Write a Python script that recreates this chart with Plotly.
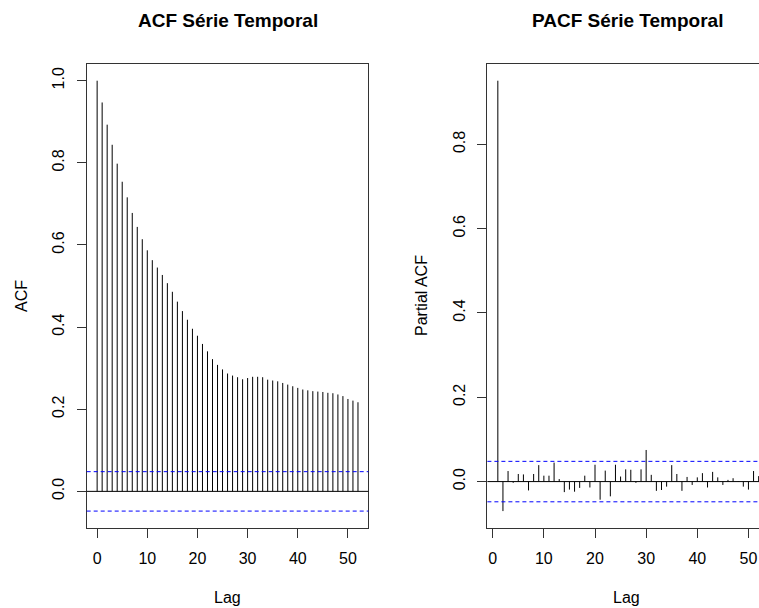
import plotly.graph_objects as go

# ---------------- data ----------------
acf_lags = list(range(0, 53))
acf_vals = [1.0, 0.947, 0.893, 0.844, 0.798, 0.754, 0.716, 0.678, 0.644, 0.614,
            0.587, 0.563, 0.545, 0.527, 0.507, 0.486, 0.462, 0.439, 0.418, 0.396,
            0.379, 0.359, 0.341, 0.322, 0.308, 0.297, 0.287, 0.282, 0.278, 0.273,
            0.276, 0.279, 0.279, 0.278, 0.272, 0.270, 0.268, 0.264, 0.260, 0.256,
            0.252, 0.248, 0.246, 0.244, 0.243, 0.242, 0.240, 0.239, 0.236, 0.232,
            0.225, 0.221, 0.217]

pacf_lags = list(range(1, 53))
pacf_vals = [0.951, -0.070, 0.025, -0.003, 0.018, 0.017, -0.021, 0.018, 0.039, 0.014,
             0.014, 0.045, 0.006, -0.025, -0.019, -0.024, -0.015, 0.014, -0.014, 0.040,
             -0.043, 0.026, -0.035, 0.040, 0.012, 0.029, 0.028, -0.003, 0.029, 0.075,
             0.016, -0.022, -0.020, -0.012, 0.039, 0.018, -0.022, 0.011, -0.008, 0.010,
             0.020, -0.014, 0.023, 0.010, -0.008, 0.004, 0.008, 0.001, -0.012, -0.019,
             0.025, 0.013]

ci = 0.048

acf_title = "ACF Série Temporal"
pacf_title = "PACF Série Temporal"
acf_ylabel = "ACF"
pacf_ylabel = "Partial ACF"
xlabel = "Lag"
x_ticks = [0, 10, 20, 30, 40, 50]
acf_yticks = [0.0, 0.2, 0.4, 0.6, 0.8, 1.0]
pacf_yticks = [0.0, 0.2, 0.4, 0.6, 0.8]

# ---------------- helpers ----------------
W, H = 759, 608
FONT = "Liberation Sans, Arial, sans-serif"


def fx(px):
    return px / W


def fy(py):
    return 1 - py / H


def stems(lags, vals):
    xs, ys = [], []
    for l, v in zip(lags, vals):
        xs += [l, l, None]
        ys += [0, v, None]
    return xs, ys


def r_range(lo, hi):
    d = (hi - lo) * 0.04
    return [lo - d, hi + d]


fig = go.Figure()

ax, ay = stems(acf_lags, acf_vals)
fig.add_trace(go.Scatter(x=ax, y=ay, mode="lines", line=dict(color="black", width=1),
                         xaxis="x", yaxis="y", showlegend=False, hoverinfo="skip"))
px_, py_ = stems(pacf_lags, pacf_vals)
fig.add_trace(go.Scatter(x=px_, y=py_, mode="lines", line=dict(color="black", width=1),
                         xaxis="x2", yaxis="y2", showlegend=False, hoverinfo="skip"))

acf_yr = r_range(min(min(acf_vals), -ci), max(max(acf_vals), ci))
pacf_yr = r_range(min(min(pacf_vals), -ci), max(max(pacf_vals), ci))
acf_xr = r_range(min(acf_lags), max(acf_lags))
pacf_xr_full = r_range(min(pacf_lags), max(pacf_lags))

# box pixel positions (page coordinates)
acf_l, acf_r = 86.7, 368.4
pacf_l = 487.4
box_top, box_bot = 63.5, 528.3
# PACF panel has the same width as the ACF one but is cropped at the picture's right edge
pacf_full_w = acf_r - acf_l
pacf_xr = [pacf_xr_full[0],
           pacf_xr_full[0] + (pacf_xr_full[1] - pacf_xr_full[0]) * (W - pacf_l) / pacf_full_w]

ydom = [fy(box_bot), fy(box_top)]

axis_common = dict(showgrid=False, zeroline=False, showline=True, linecolor="#333333",
                   linewidth=1, ticks="outside", ticklen=9, tickcolor="#333333",
                   tickfont=dict(family=FONT, size=16, color="black"))

fig.update_layout(
    width=W, height=H, margin=dict(l=0, r=0, t=0, b=0),
    paper_bgcolor="white", plot_bgcolor="white", showlegend=False,
    xaxis=dict(domain=[fx(acf_l), fx(acf_r)], range=acf_xr, tickvals=x_ticks,
               mirror=True, anchor="y", ticklabelstandoff=6, **axis_common),
    yaxis=dict(domain=ydom, range=acf_yr, tickvals=acf_yticks, tickformat=".1f",
               tickangle=-90, mirror=True, anchor="x", ticklabelstandoff=6, **axis_common),
    xaxis2=dict(domain=[fx(pacf_l), 1.0], range=pacf_xr, tickvals=x_ticks,
                mirror=True, anchor="y2", ticklabelstandoff=6, **axis_common),
    yaxis2=dict(domain=ydom, range=pacf_yr, tickvals=pacf_yticks, tickformat=".1f",
                tickangle=-90, mirror=False, anchor="x2", ticklabelstandoff=6, **axis_common),
)

# zero lines and confidence bands
for xr_, yr_ in (("x", "y"), ("x2", "y2")):
    fig.add_shape(type="line", xref=f"{xr_} domain", yref=yr_, x0=0, x1=1, y0=0, y1=0,
                  line=dict(color="black", width=1))
    for s in (ci, -ci):
        fig.add_shape(type="line", xref=f"{xr_} domain", yref=yr_, x0=0, x1=1, y0=s, y1=s,
                      line=dict(color="#0000FF", width=1, dash="4px,3px"))

# titles and axis labels
ann = [
    dict(text=f"<b>{acf_title}</b>", x=fx((acf_l + acf_r) / 2), y=fy(20), size=19, angle=0),
    dict(text=f"<b>{pacf_title}</b>", x=fx(627.5), y=fy(20), size=19, angle=0),
    dict(text=xlabel, x=fx((acf_l + acf_r) / 2), y=fy(597), size=16, angle=0),
    dict(text=xlabel, x=fx(626.7), y=fy(597), size=16, angle=0),
    dict(text=acf_ylabel, x=fx(21), y=fy(296), size=16, angle=-90),
    dict(text=pacf_ylabel, x=fx(421), y=fy(296), size=16, angle=-90),
]
for a in ann:
    fig.add_annotation(text=a["text"], x=a["x"], y=a["y"], xref="paper", yref="paper",
                       xanchor="center", yanchor="middle", showarrow=False,
                       textangle=a["angle"],
                       font=dict(family=FONT, size=a["size"], color="black"))

fig.write_html("out.html",
               config={"displayModeBar": False, "staticPlot": True},
               post_script="document.body.style.margin='0';"
                           "document.body.style.overflow='hidden';")
